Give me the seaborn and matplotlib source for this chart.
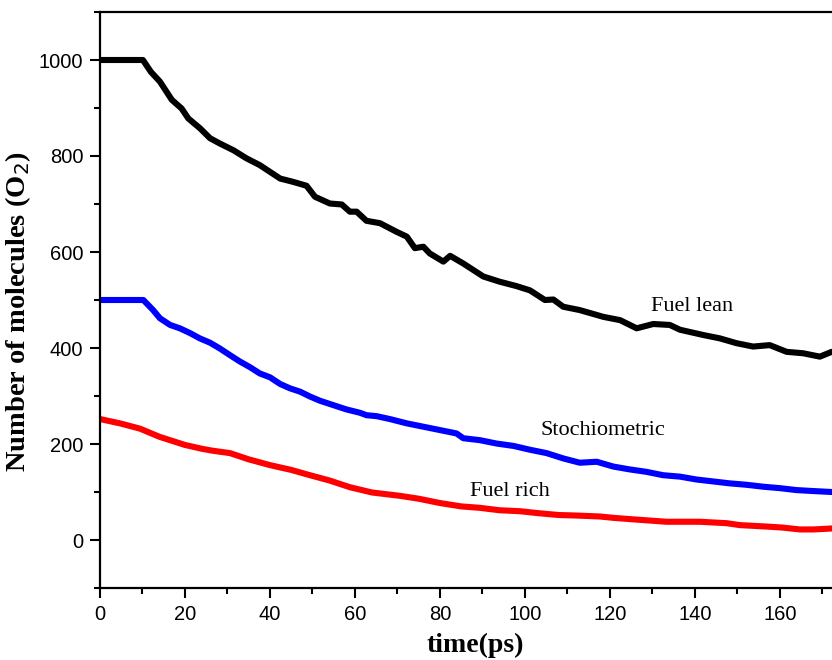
import matplotlib
matplotlib.use("Agg")
import matplotlib.pyplot as plt
from matplotlib.ticker import MultipleLocator
import pandas as pd
import seaborn as sns

# O2 molecule count over simulation time for three mixtures
t_lean = [0, 10.1, 12, 14.1, 16.9, 19.2, 20.8, 23.5, 25.9, 28.2, 31.4, 34.5, 37.6,
          42.4, 45.5, 48.6, 50.6, 54.1, 56.9, 58.8, 60.4, 62.7, 65.9, 69.8, 72.2,
          74.1, 76.1, 77.6, 80.8, 82.4, 85.5, 90.2, 94.1, 98.0, 101.2, 104.7, 106.7,
          109, 112.9, 118.4, 122.4, 126.3, 130.2, 134.1, 136.5, 142, 145.9, 149.8,
          153.7, 157.6, 161.6, 165.5, 169.4, 172.2]
n_lean = [1000, 1000, 975, 955, 917, 899, 878, 858, 837, 826, 812, 795, 781,
          753, 746, 738, 715, 701, 699, 684, 684, 665, 660, 642, 632,
          608, 611, 597, 580, 592, 576, 549, 538, 529, 520, 500, 501,
          486, 479, 465, 458, 441, 450, 448, 438, 427, 420, 410,
          403, 406, 392, 389, 382, 392]

t_stoich = [0, 10.2, 12.5, 14.1, 16.5, 18.8, 21.2, 23.5, 25.9, 28.2, 30.6, 32.9,
            35.3, 37.6, 40, 42.4, 44.7, 47.1, 49.4, 51.8, 54.9, 58, 61.2, 62.7,
            65.1, 68.2, 72.2, 76.1, 80, 83.9, 85.5, 89.4, 93.3, 97.3, 101.2, 105.1,
            109, 112.9, 116.9, 120.8, 124.7, 128.6, 132.5, 136.5, 140.4, 144.3,
            148.2, 152.2, 156.1, 160, 163.9, 167.8, 172.2]
n_stoich = [500, 500, 479, 462, 448, 441, 431, 420, 411, 399, 385, 372,
            360, 347, 339, 325, 316, 309, 299, 290, 281, 272, 265, 260,
            258, 252, 243, 236, 229, 222, 212, 208, 201, 196, 188, 181,
            170, 161, 163, 153, 147, 142, 135, 132, 126, 122,
            118, 115, 111, 108, 104, 102, 100]

t_rich = [0, 4.7, 9.4, 14, 20, 24, 26.5, 30.6, 35, 40, 45, 49.4, 54, 58.8, 64,
          70.6, 75, 80, 85, 89.4, 94, 98.8, 103, 108, 112, 117.6, 121, 125.5,
          133.3, 141.2, 147.5, 150.6, 156.9, 160.5, 164.7, 168, 172.2]
n_rich = [252, 243, 232, 215, 198, 190, 186, 181, 168, 156, 146, 135, 124, 110, 99,
          92, 86, 77, 70, 67, 62, 60, 56, 52, 51, 49, 46, 43,
          38, 38, 35, 31, 28, 26, 22, 22, 24]

series_names = ["Fuel lean", "Stochiometric", "Fuel rich"]
series_colors = ["#000000", "#0000ff", "#ff0000"]

frames = []
for name, t, n in zip(series_names, [t_lean, t_stoich, t_rich],
                      [n_lean, n_stoich, n_rich]):
    frames.append(pd.DataFrame({"time": t, "count": n, "mixture": name}))
df = pd.concat(frames, ignore_index=True)

sns.set_style("ticks")
plt.rcParams["font.family"] = ["Liberation Sans", "DejaVu Sans"]
plt.rcParams["text.color"] = "black"
plt.rcParams["axes.labelcolor"] = "black"

fig = plt.figure(figsize=(8.32, 6.60), dpi=100)
# axes extends past the right edge of the canvas
ax = fig.add_axes([100 / 832, 72 / 660, 750 / 832, 576 / 660])

sns.lineplot(data=df, x="time", y="count", hue="mixture",
             palette=dict(zip(series_names, series_colors)),
             linewidth=4.4, legend=False, ax=ax, sort=False)

ax.set_xlim(0, 176.5)
ax.set_ylim(-100, 1100)
ax.xaxis.set_major_locator(MultipleLocator(20))
ax.xaxis.set_minor_locator(MultipleLocator(10))
ax.yaxis.set_major_locator(MultipleLocator(200))
ax.yaxis.set_minor_locator(MultipleLocator(100))
ax.tick_params(which="major", direction="out", length=7, width=1.5,
               labelsize=14.5, pad=5, color="black", labelcolor="black")
ax.tick_params(which="minor", direction="out", length=4, width=1.5, color="black")
ax.tick_params(axis="x", which="both", top=False)
ax.tick_params(axis="y", which="both", right=False)
for side in ["left", "bottom", "top", "right"]:
    ax.spines[side].set_linewidth(1.6)
    ax.spines[side].set_color("black")

serif = ["Liberation Serif", "DejaVu Serif"]
ax.set_xlabel("time(ps)", fontsize=20, fontweight="bold", family=serif,
              labelpad=6.5, color="black")
ax.set_ylabel("Number of molecules (O$_2$)", fontsize=20.5, fontweight="bold",
              family=serif, color="black")
ax.yaxis.set_label_coords(-67 / 750, 0.479)

ax.text(139.3, 486, "Fuel lean", fontsize=16, family=serif, ha="center",
        va="center", color="black")
ax.text(118.4, 229, "Stochiometric", fontsize=16, family=serif, ha="center",
        va="center", color="black")
ax.text(96.5, 101, "Fuel rich", fontsize=16, family=serif, ha="center",
        va="center", color="black")

fig.savefig("out.png", dpi=100)
